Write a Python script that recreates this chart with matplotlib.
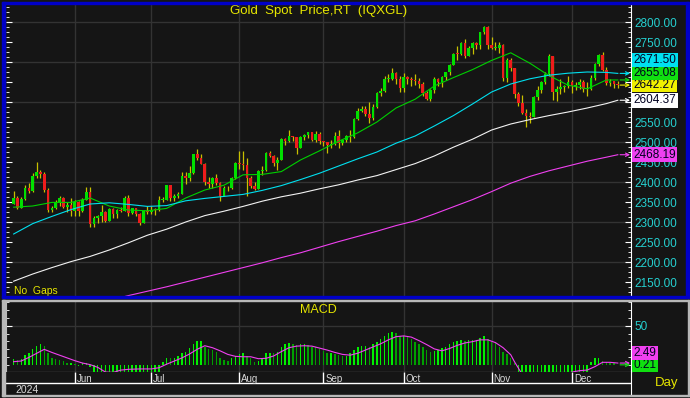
import matplotlib.pyplot as plt
import numpy as np
import pandas as pd
from matplotlib.patches import Rectangle
from matplotlib.ticker import MultipleLocator, FixedLocator

plt.rcParams['font.family'] = ['Liberation Sans', 'DejaVu Sans']

# gold spot daily bars, 10 May - 18 Dec 2024 (open = previous close)
first_open = 2346.0
close = ([2360, 2336, 2358, 2386, 2377, 2415, 2425, 2421, 2379, 2329, 2334, 2351, 2361, 2338, 2343, 2327]
         + [2350, 2327, 2355, 2376, 2294, 2311, 2316, 2324, 2303, 2333, 2319, 2330, 2328, 2360, 2322, 2334,
            2319, 2298, 2327, 2326]
         + [2331, 2330, 2356, 2356, 2392, 2359, 2364, 2371, 2415, 2411, 2422, 2469, 2459, 2445, 2400, 2396,
            2409, 2398, 2364, 2386, 2384, 2410, 2447]
         + [2446, 2443, 2410, 2390, 2382, 2427, 2431, 2472, 2465, 2447, 2456, 2507, 2503, 2514, 2512, 2484,
            2512, 2518, 2524, 2504, 2521, 2503]
         + [2500, 2493, 2495, 2516, 2497, 2506, 2516, 2512, 2558, 2578, 2582, 2569, 2559, 2587, 2622, 2628,
            2657, 2657, 2672, 2658, 2634]
         + [2663, 2657, 2656, 2653, 2644, 2622, 2608, 2630, 2657, 2649, 2662, 2674, 2692, 2721, 2720, 2748,
            2716, 2736, 2747, 2743, 2774, 2788, 2743]
         + [2736, 2736, 2743, 2659, 2706, 2685, 2619, 2598, 2573, 2565, 2562, 2612, 2631, 2650, 2670, 2716,
            2625, 2633, 2638, 2639, 2650]
         + [2640, 2643, 2650, 2632, 2633, 2660, 2694, 2718, 2680, 2648, 2652, 2646, 2642.27])
high = ([2378, 2364, 2362, 2392, 2398, 2423, 2450, 2431, 2426, 2386, 2341, 2356, 2364, 2363, 2351, 2360]
        + [2354, 2352, 2360, 2388, 2387, 2314, 2318, 2342, 2328, 2336, 2336, 2333, 2337, 2365, 2368, 2335,
           2336, 2323, 2331, 2339]
        + [2339, 2336, 2364, 2363, 2393, 2392, 2370, 2376, 2424, 2424, 2440, 2470, 2483, 2470, 2448, 2412,
           2412, 2421, 2400, 2390, 2390, 2413, 2451]
        + [2477, 2477, 2461, 2414, 2401, 2431, 2441, 2475, 2477, 2467, 2462, 2509, 2509, 2531, 2514, 2509,
           2514, 2521, 2525, 2525, 2528, 2525]
        + [2503, 2501, 2505, 2524, 2529, 2507, 2518, 2529, 2560, 2586, 2590, 2589, 2600, 2596, 2625, 2635,
           2664, 2670, 2685, 2675, 2665]
        + [2673, 2665, 2663, 2671, 2660, 2649, 2627, 2633, 2662, 2660, 2664, 2676, 2696, 2723, 2740, 2749,
           2758, 2741, 2749, 2749, 2775, 2790, 2790]
        + [2762, 2750, 2750, 2745, 2710, 2709, 2685, 2626, 2618, 2582, 2574, 2614, 2639, 2653, 2675, 2721,
           2714, 2641, 2657, 2642, 2665]
        + [2654, 2650, 2657, 2655, 2651, 2667, 2697, 2721, 2726, 2688, 2658, 2653, 2652])
low = ([2345, 2332, 2340, 2354, 2372, 2376, 2411, 2409, 2374, 2326, 2325, 2333, 2340, 2334, 2324, 2315]
       + [2314, 2316, 2325, 2354, 2287, 2287, 2298, 2300, 2301, 2302, 2311, 2311, 2326, 2328, 2316, 2320,
          2316, 2293, 2298, 2319]
       + [2319, 2318, 2327, 2351, 2354, 2353, 2352, 2360, 2370, 2395, 2402, 2421, 2454, 2444, 2393, 2384,
          2385, 2393, 2353, 2364, 2377, 2382, 2408]
       + [2433, 2430, 2364, 2385, 2381, 2382, 2418, 2428, 2462, 2440, 2431, 2456, 2492, 2501, 2502, 2470,
          2484, 2504, 2510, 2503, 2501, 2496]
       + [2490, 2472, 2486, 2493, 2485, 2492, 2500, 2501, 2510, 2555, 2575, 2565, 2547, 2555, 2584, 2614,
          2625, 2650, 2655, 2644, 2624]
       + [2624, 2646, 2641, 2643, 2634, 2614, 2605, 2603, 2623, 2639, 2637, 2656, 2668, 2692, 2704, 2718,
          2709, 2715, 2720, 2733, 2732, 2771, 2733]
       + [2733, 2729, 2722, 2652, 2651, 2678, 2610, 2589, 2570, 2537, 2547, 2563, 2604, 2623, 2644, 2665,
          2605, 2602, 2621, 2626, 2634]
       + [2622, 2629, 2632, 2625, 2614, 2631, 2656, 2691, 2677, 2643, 2641, 2636, 2636])

# moving averages every 5 bars
ma_idx = list(range(0, 156, 5)) + [158]
ma20 = [2337, 2340, 2349, 2349, 2360, 2340, 2330, 2328, 2334, 2360, 2380, 2392, 2418, 2419, 2426, 2455,
        2478, 2502, 2523, 2550, 2585, 2607, 2640, 2661, 2681, 2704, 2723, 2697, 2666, 2642, 2633, 2655,
        2655.08]
ma50 = [2270, 2296, 2314, 2331, 2345, 2348, 2344, 2339, 2341, 2353, 2359, 2364, 2369, 2379, 2391, 2406,
        2422, 2440, 2458, 2475, 2497, 2515, 2540, 2566, 2595, 2625, 2645, 2658, 2667, 2672, 2675, 2674,
        2671.50]
ma100 = [2152, 2170, 2186, 2201, 2214, 2230, 2248, 2267, 2282, 2300, 2316, 2327, 2339, 2352, 2363, 2372,
         2383, 2393, 2405, 2416, 2431, 2446, 2465, 2487, 2507, 2530, 2545, 2556, 2566, 2575, 2585, 2596,
         2604.37]
ma200_idx = list(range(25, 156, 5)) + [158]
ma200 = [2104, 2116, 2127, 2138, 2150, 2162, 2174, 2186, 2198, 2211, 2223, 2237, 2251, 2264, 2277, 2291,
         2303, 2320, 2338, 2356, 2376, 2397, 2414, 2428, 2440, 2452, 2462, 2468.19]

# MACD histogram (one value per bar) and its signal line
macd = ([7.6, 6.4, 7.2, 12.7, 15.7, 20.3, 24.6, 26.7, 24.6, 15.7, 8.5, 7.2, 6.4, 5.1, 2.1, 2.1, 0.8, -0.8,
         2.1, 3.0, -2.0]
        + [-9.5, -10.5, -11, -12, -11.5, -12, -12, -12.5, -11, -12, -11.5, -12, -13.5, -12, -11, -10.5,
           -9.5, -9.2]
        + [4.2, 9.3, 8.5, 8.5, 11.4, 14.8, 17.0, 21.2, 26.3, 30.5, 30.5, 23.3, 20.0, 19.0, 16.1, 8.5, 6.4,
           5.1, 8.5, 11.9]
        + [14.0, 14.8, 11.4, 8.5, 4.2, 5.1, 9.3, 14.8, 15.7, 14.8, 17.0, 23.3, 26.7, 27.5, 26.3, 25.4, 26.3,
           26.3, 25.4, 23.3, 22.5, 20.0]
        + [17.8, 14.8, 14.8, 13.6, 12.7, 11.9, 11.9, 14.8, 19.0, 22.5, 24.2, 24.2, 23.3, 26.3, 29.7, 32.6,
           36.9, 41.1, 41.9, 40.3, 36.9]
        + [36.9, 35.2, 32.6, 29.7, 26.3, 22.5, 19.0, 16.1, 17.8, 19.0, 21.2, 23.3, 26.7, 29.7, 30.5, 31.8,
           30.5, 31.8, 31.8, 31.8, 34.7, 36.9, 32.6, 29.7, 27.5, 23.3, 17.0, 13.6, 8.5, 2.1]
        + [-9.5, -12, -15, -17, -18, -16, -14, -12, -10, -11, -12, -12, -11.5, -11, -11, -11, -11.5, -12,
           -10]
        + [4.2, 8.5, 8.5, 5.1, 4.2, 3.0, 2.1, 0.21])
sig_idx = [0, 2, 4, 6, 8, 10, 12, 14, 16, 18, 20, 22, 24, 26, 28, 30, 33, 36, 38, 40, 42, 44, 46, 48, 50,
           52, 54, 56, 58, 60, 62, 64, 66, 68, 70, 72, 74, 76, 78, 80, 82, 84, 86, 88, 90, 92, 94, 96, 98,
           100, 102, 104, 106, 108, 110, 112, 114, 116, 118, 120, 122, 124, 126, 128, 130, 131, 133, 138,
           142, 146, 148, 150, 152, 154, 156, 158]
sig_val = [4.2, 5.1, 9.7, 14.8, 19.9, 16, 12.5, 9, 5.5, 2.5, 0.5, -3, -9, -9.5, -6.5, -5.5, -5, -5, -3.5,
           1, 5, 9, 14, 20, 24.5, 22, 18, 13.5, 11, 10.5, 10.5, 8, 8.5, 11.5, 17, 22, 24, 24.5, 24, 21.5,
           19, 16, 13.5, 12.5, 15, 19, 23, 27, 32, 36, 37, 35.5, 31, 26, 20.5, 18, 21, 25, 28, 29.7, 32,
           32, 28.5, 22, 13, 4, -12, -20, -15, -9, -7.2, -6.4, -2.1, 3.4, 3.4, 2.49]

BG = '#151515'
GRID = '#333333'
YEL = '#e6e600'
CYAN_TXT = '#25d0d0'
C_MA20, C_MA50, C_MA100, C_MA200 = '#00d000', '#00e0f0', '#f2f2f2', '#f040f0'
UP, DOWN, WICK = '#00e000', '#ee1c1c', '#c8c000'

n = min(len(close), len(high), len(low))
c = np.array(close[:n], dtype=float)
o = np.r_[first_open, c[:-1]]
hi = np.maximum(np.array(high[:n], dtype=float), np.maximum(o, c))
lo = np.minimum(np.array(low[:n], dtype=float), np.minimum(o, c))
x = np.arange(n)
dates = pd.bdate_range('2024-05-10', periods=n)
month_start = [i for i in range(1, n) if dates[i].month != dates[i - 1].month]
month_name = [dates[i].strftime('%b') for i in month_start]

fig = plt.figure(figsize=(6.9, 3.98), dpi=100, facecolor=BG)
W, H = 690.0, 398.0


def box(x0, y0, x1, y1):
    return [x0 / W, 1 - y1 / H, (x1 - x0) / W, (y1 - y0) / H]


ax = fig.add_axes(box(6, 5, 631, 296), facecolor=BG)
axm = fig.add_axes(box(6, 301, 631, 372), facecolor=BG)
axd = fig.add_axes(box(6, 372, 631, 395), facecolor=BG)
xlim = (-2.0, 161.45)

# ---- price panel ----
ax.vlines(x, lo, hi, color=WICK, lw=0.9, zorder=3)
body = np.maximum(np.abs(c - o), 2.0)
ax.bar(x, body, bottom=np.minimum(o, c), width=0.7, color=np.where(c >= o, UP, DOWN), lw=0, zorder=4)
ax.plot(ma_idx, ma20, color=C_MA20, lw=0.8, zorder=5)
ax.plot(ma_idx, ma50, color=C_MA50, lw=0.8, zorder=5)
ax.plot(ma_idx, ma100, color=C_MA100, lw=0.8, zorder=5)
ax.plot(ma200_idx, ma200, color=C_MA200, lw=0.8, zorder=5)

ax.set_xlim(*xlim)
ax.set_ylim(2115, 2842.5)
for lvl in range(2200, 2801, 100):
    ax.axhline(lvl, color=GRID, lw=1, zorder=1)
for i in month_start:
    ax.axvline(i, color=GRID, lw=1, zorder=1)
ax.set_xticks([])
price_ticks = list(range(2150, 2801, 50))
ax.yaxis.set_major_locator(FixedLocator(price_ticks))
ax.yaxis.set_minor_locator(MultipleLocator(12.5))
ax.tick_params(axis='y', which='both', left=True, right=True, labelleft=False, labelright=True,
               direction='in', color='white', labelcolor=CYAN_TXT, labelsize=8.5, pad=2.5)
ax.tick_params(axis='y', which='major', length=4)
ax.tick_params(axis='y', which='minor', length=2)
for s in ['top', 'bottom', 'left']:
    ax.spines[s].set_visible(False)
ax.spines['right'].set_color('white')

ax.text(0.5, 1 - 6 / 291, 'Gold  Spot  Price,RT  (IQXGL)', transform=ax.transAxes, ha='center',
        va='center', color=YEL, fontsize=9.5)
ax.text(8 / 625, 4.5 / 291, 'No  Gaps', transform=ax.transAxes, ha='left', va='center', color=YEL,
        fontsize=7.5)

# ---- MACD panel ----
mv = np.array(macd[:n], dtype=float)
prev = np.r_[mv[0], mv[:-1]]
mcol = np.where((mv >= prev) | (mv < 0), '#00f000', '#00a000')
axm.bar(x[:len(mv)], mv, width=0.38, color=mcol, lw=0, zorder=3)
axm.plot(sig_idx, sig_val, color=C_MA200, lw=0.8, zorder=4)
axm.set_xlim(*xlim)
axm.set_ylim(-8.9, 81.4)
axm.axhline(50, color=GRID, lw=1, zorder=1)
for i in month_start:
    axm.axvline(i, color=GRID, lw=1, zorder=1)
axm.set_xticks([])
axm.yaxis.set_major_locator(FixedLocator([50]))
axm.yaxis.set_minor_locator(MultipleLocator(10))
axm.set_yticklabels(['50'])
axm.tick_params(axis='y', which='both', left=True, right=True, labelleft=False, labelright=True,
                direction='in', color='white', labelcolor=CYAN_TXT, labelsize=8.5, pad=2.5)
axm.tick_params(axis='y', which='major', length=4)
axm.tick_params(axis='y', which='minor', length=2)
axm.spines['top'].set_visible(False)
axm.spines['left'].set_color('#bbbbbb')
axm.spines['right'].set_color('white')
axm.spines['bottom'].set_color('white')
axm.text(0.5, 1 - 9 / 71, 'MACD', transform=axm.transAxes, ha='center', va='center', color=YEL,
         fontsize=9)

# ---- date row ----
axd.set_xlim(*xlim)
axd.set_ylim(0, 1)
axd.axhline(12 / 23, color='white', lw=1)
axd.vlines(month_start, 12 / 23, 1, color='white', lw=1)
for i, name in zip(month_start, month_name):
    axd.text(i + 0.5, 16 / 23, name, ha='left', va='center', color='#d8d8d8', fontsize=7)
axd.text(9 / 625, 5 / 23, str(dates[0].year), transform=axd.transAxes, ha='left', va='center',
         color='#d8d8d8', fontsize=7.5)
axd.set_xticks([])
axd.set_yticks([])
for s in ['top', 'left', 'bottom']:
    axd.spines[s].set_visible(False)
axd.spines['right'].set_color('white')
fig.text(655 / W, 1 - 383 / H, 'Day', color=YEL, fontsize=9.5, ha='left', va='center')

# ---- last-value arrows and tags ----
fig.canvas.draw()


def tags(axis, items, h):
    pts = []
    for val, col, txt in items:
        yd = axis.transData.transform((0, val))[1]
        pts.append([yd, val, col, txt])
        axis.annotate('', xy=(161.2, val), xytext=(158.6, val), annotation_clip=False,
                      arrowprops=dict(arrowstyle='->', color=col, lw=0.8, shrinkA=0, shrinkB=0,
                                      mutation_scale=6), zorder=6)
    pts.sort(key=lambda p: p[0])
    last = -1e9
    for p in pts:
        p[0] = max(p[0], last + h)
        last = p[0]
        fig.text(633.5 / W, p[0] / H, p[3], color='#000020', fontsize=8.5, ha='left', va='center',
                 bbox=dict(facecolor=p[2], edgecolor='none', pad=0.9), zorder=10)
    return [p[0] for p in pts]


tag_y = tags(ax, [(ma50[-1], C_MA50, f'{ma50[-1]:.2f}'), (ma20[-1], '#10e010', f'{ma20[-1]:.2f}'),
                  (c[-1], '#f0f000', f'{c[-1]:.2f}'), (ma100[-1], '#ffffff', f'{ma100[-1]:.2f}'),
                  (ma200[-1], C_MA200, f'{ma200[-1]:.2f}')], 12.5)
tags(axm, [(sig_val[-1], C_MA200, f'{sig_val[-1]:.2f}'), (mv[-1], '#10e010', f'{mv[-1]:.2f}')], 12)

# price labels hidden where a tag sits on top of them
labels = []
for v in price_ticks:
    yd = ax.transData.transform((0, v))[1]
    labels.append('' if any(abs(yd - t) < 7 for t in tag_y) else f'{v:.2f}')
ax.set_yticklabels(labels)

# ---- frames ----
blue = '#0000c8'
for r in [(2, 2, 5, 297), (2, 2, 689, 4), (686, 2, 689, 297), (2, 295.5, 689, 297.5)]:
    fig.patches.append(Rectangle((r[0] / W, 1 - r[3] / H), (r[2] - r[0]) / W, (r[3] - r[1]) / H,
                                 transform=fig.transFigure, color=blue, zorder=20))
for r in [(2, 299.5, 689, 300.5), (2, 299.5, 5, 396), (2, 395, 689, 396), (688, 299.5, 689, 396)]:
    fig.patches.append(Rectangle((r[0] / W, 1 - r[3] / H), (r[2] - r[0]) / W, (r[3] - r[1]) / H,
                                 transform=fig.transFigure, color='#b8b8b8', zorder=20))

fig.savefig('out.png', dpi=100, facecolor=BG)
